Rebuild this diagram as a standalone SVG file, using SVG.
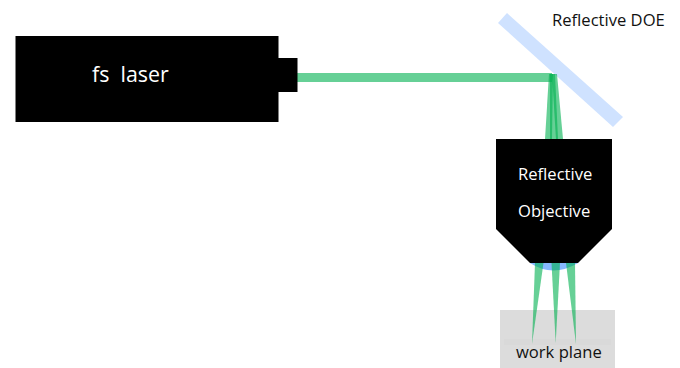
<svg xmlns="http://www.w3.org/2000/svg" width="680" height="368" viewBox="0 0 680 368">
<style>
.body{fill:#000}
.beam{fill:#00b050;fill-opacity:.6}
.t{font-family:"Open Sans","Noto Sans",sans-serif;font-size:16.600px}
.w{fill:#fff}
.k{fill:#111}
</style>
<rect width="680" height="368" fill="#fff"/>
<g id="work-plane">
<rect x="500" y="310" width="115" height="58" fill="#dcdcdc"/>
<rect x="504" y="339" width="107" height="6" fill="#d9d9d9"/>
<text class="t k" x="516" y="358">work plane</text>
</g>
<g id="doe">
<polygon points="507,13 498,23 613,127 623,117" fill="#cfe2ff"/>
<text class="t k" x="552" y="26">Reflective DOE</text>
</g>
<g id="connectors">
<rect class="beam" x="297" y="73" width="255" height="9"/>
<polygon class="beam" points="549,74 553,74 552,139 545,139"/>
<polygon class="beam" points="550,74 555,74 558,139 550,139"/>
<polygon class="beam" points="552,74 557,74 563,139 556,139"/>
<path d="M530,263 Q553,278 578,263 Z" fill="#86b8ff"/>
<polygon class="beam" points="535,263 543.500,263 532,344"/>
<polygon class="beam" points="551.500,263 560,263 555.700,343"/>
<polygon class="beam" points="566,263 575,263 576,344"/>
</g>
<g id="laser">
<rect class="body" x="15.500" y="36" width="263" height="86"/>
<rect class="body" x="278" y="58" width="19.500" height="34"/>
<text class="t w" x="92" y="82" style="font-size:21.400px" xml:space="preserve">fs  laser</text>
</g>
<g id="objective">
<polygon class="body" points="496,139 612,139 612,229 578,263 530,263 496,229"/>
<text class="t w" x="518" y="180">Reflective</text>
<text class="t w" x="518" y="217">Objective</text>
</g>
</svg>
